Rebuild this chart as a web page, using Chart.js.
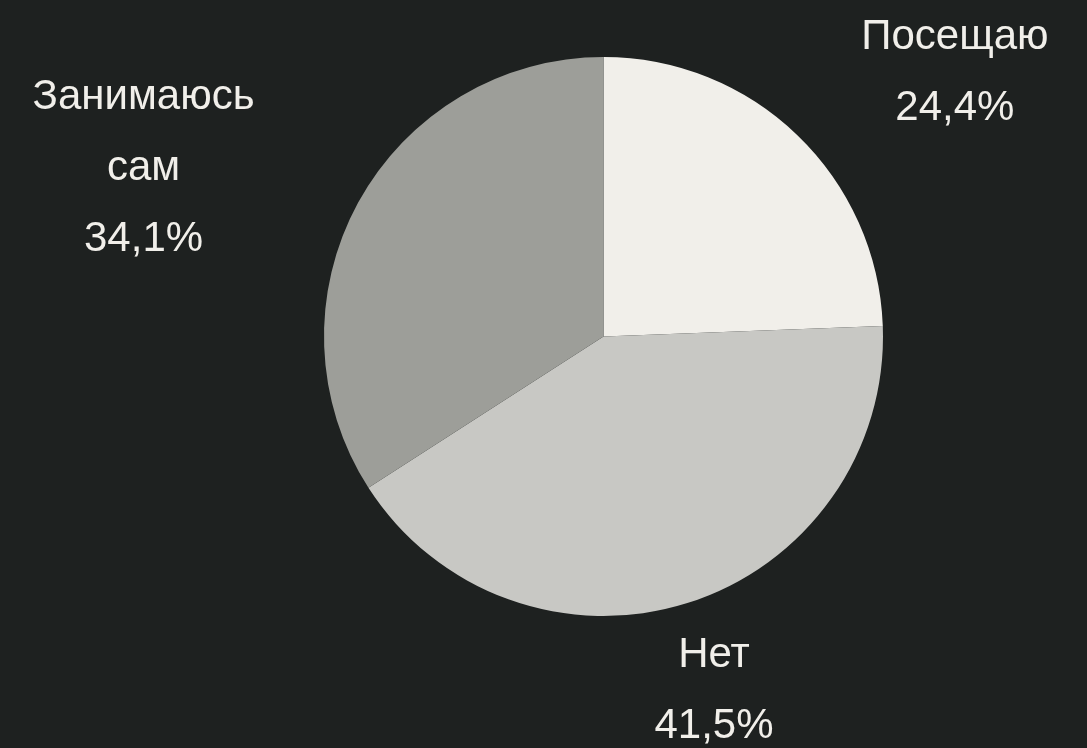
<!DOCTYPE html>
<html>
<head>
<meta charset="utf-8">
<script src="https://cdn.jsdelivr.net/npm/chart.js@4"></script>
<style>
  html, body { margin: 0; padding: 0; background: #1e2120; }
  #wrap { width: 1087px; height: 748px; }
</style>
</head>
<body>
<div id="wrap"><canvas id="pieChart" width="1087" height="748"></canvas></div>
<script>
// answers, in the order the pie runs clockwise from 12 o'clock
const categories = ['Посещаю', 'Нет', 'Занимаюсь сам'];
const shares = [24.4, 41.5, 34.1];
const sliceColors = ['#f1efea', '#c8c8c4', '#9d9e99'];

const fmtPct = v => v.toFixed(1).replace('.', ',') + '%';

// draws the category + percent labels outside each slice
const outsideLabels = {
  id: 'outsideLabels',
  afterDatasetsDraw(chart, args, opts) {
    const ctx = chart.ctx;
    const meta = chart.getDatasetMeta(0);
    ctx.save();
    ctx.fillStyle = opts.color;
    ctx.font = opts.size + 'px ' + opts.family;
    ctx.textAlign = 'center';
    ctx.textBaseline = 'alphabetic';
    meta.data.forEach((arc, i) => {
      const p = arc.getProps(['x', 'y', 'startAngle', 'endAngle', 'outerRadius'], true);
      const mid = (p.startAngle + p.endAngle) / 2 + (opts.angleShift[i] || 0) * Math.PI / 180;
      const d = p.outerRadius * opts.distance[i];
      const cx = p.x + Math.cos(mid) * d;
      const cy = p.y + Math.sin(mid) * d;
      const lines = categories[i].split(' ').concat([fmtPct(shares[i])]);
      const total = opts.capHeight + (lines.length - 1) * opts.lineHeight;
      let y = cy - total / 2 + opts.capHeight;
      lines.forEach(line => {
        ctx.fillText(line, cx, y);
        y += opts.lineHeight;
      });
    });
    ctx.restore();
  }
};

new Chart(document.getElementById('pieChart'), {
  type: 'pie',
  data: {
    labels: categories,
    datasets: [{
      data: shares,
      backgroundColor: sliceColors,
      borderWidth: 0,
    }]
  },
  options: {
    responsive: false,
    animation: false,
    layout: { padding: { top: 57, bottom: 132, left: 120, right: 0 } },
    plugins: {
      legend: { display: false },
      tooltip: { enabled: false },
      outsideLabels: {
        color: '#f1efea',
        family: '"Liberation Sans", Arial, sans-serif',
        size: 42,
        capHeight: 30,
        lineHeight: 71,
        distance: [1.578, 1.318, 1.756],
        angleShift: [8.9, 0, -8.2]
      }
    }
  },
  plugins: [outsideLabels]
});
</script>
</body>
</html>
